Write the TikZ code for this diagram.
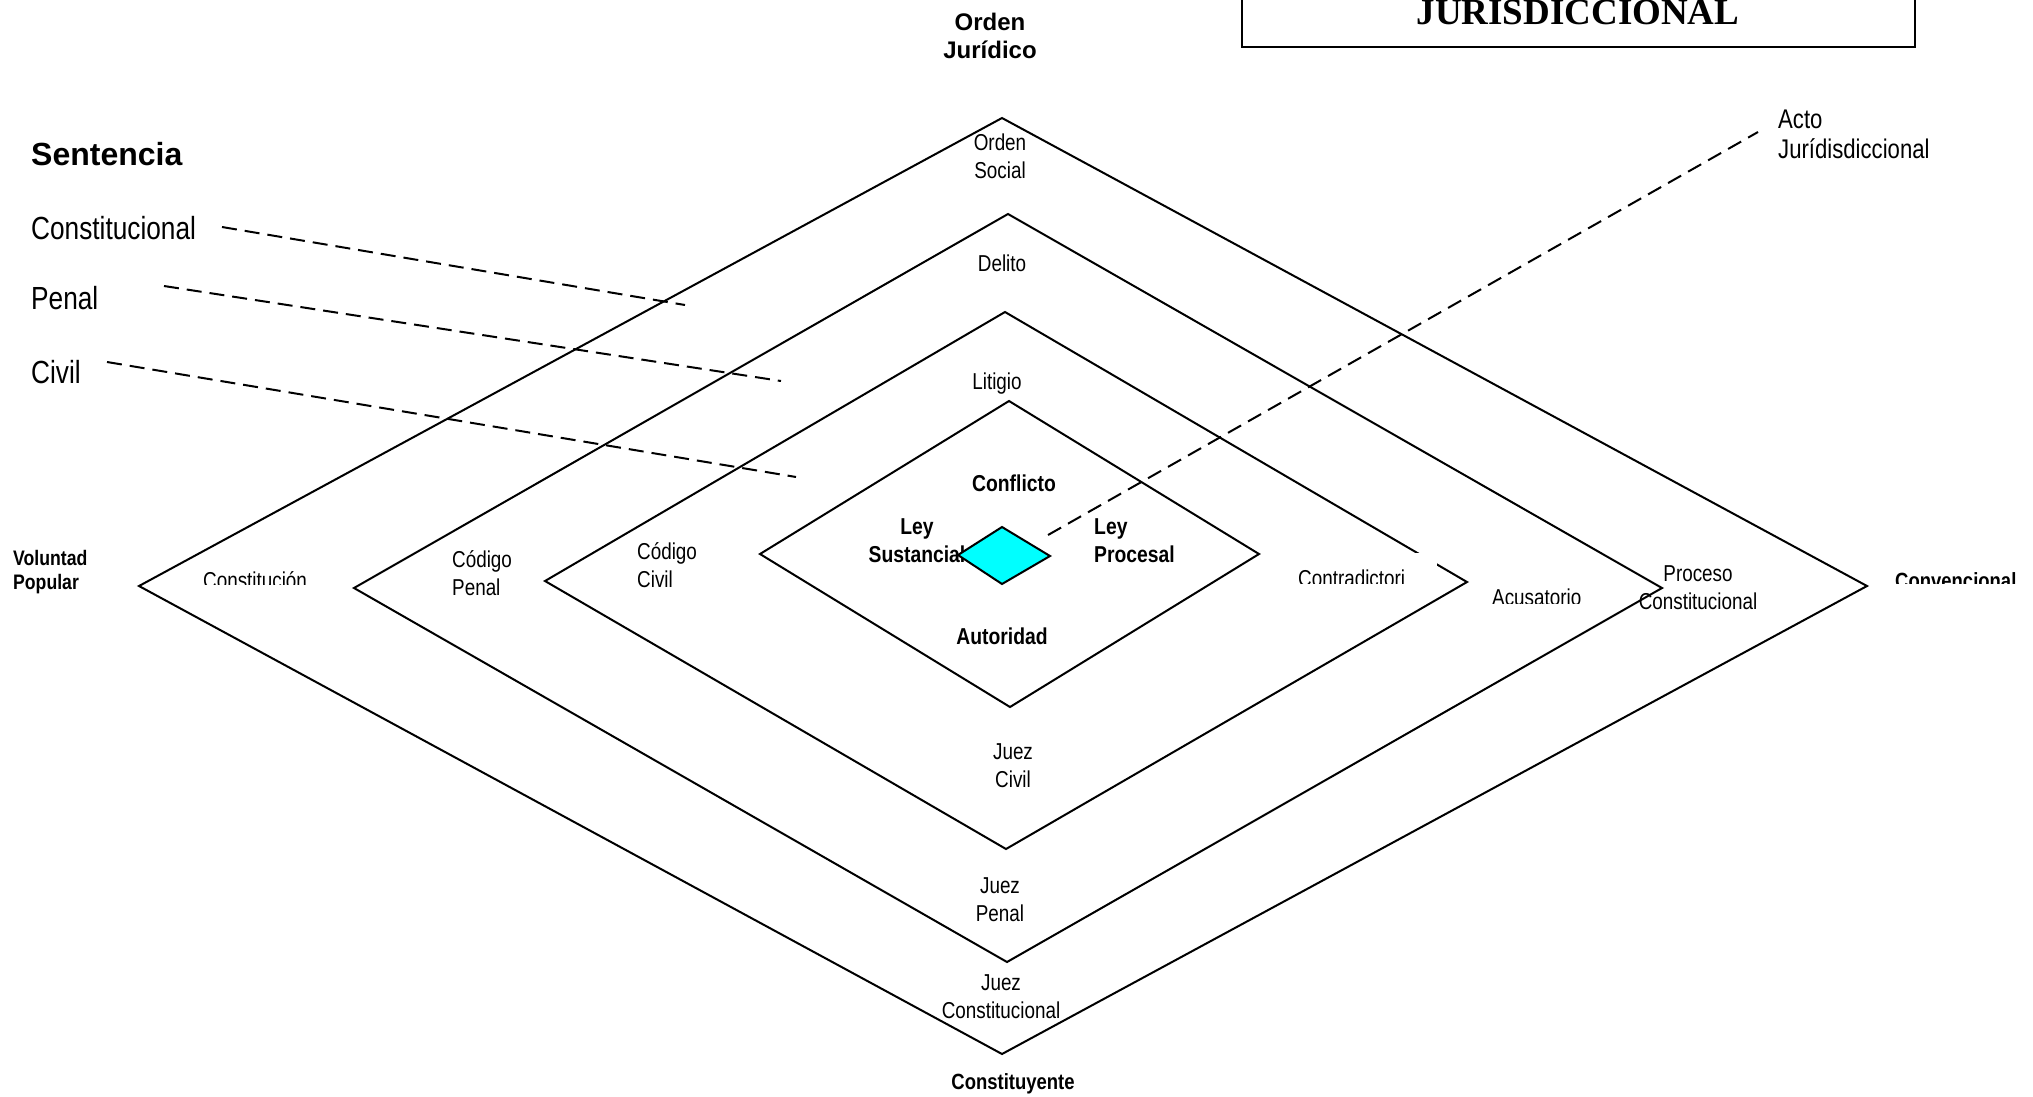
\documentclass[tikz,border=0pt]{standalone}
\usepackage{fontspec}
\setmainfont{Liberation Sans}
\newfontfamily\narfont[FakeStretch=0.82]{Liberation Sans}
\newfontfamily\narbfont[FakeStretch=0.84]{Liberation Sans}
\newfontfamily\titlefont{Liberation Serif}
\definecolor{aqua}{RGB}{0,255,255}
\tikzset{
  diam/.style={line width=2pt, line join=miter, miter limit=10},
  dashln/.style={line width=2pt, dash pattern=on 15pt off 8pt},
  rl/.style={font=\narfont\fontsize{23}{28}\selectfont, inner sep=0pt, align=center},
  rll/.style={font=\narfont\fontsize{23}{28}\selectfont, inner sep=0pt, align=left},
  bl/.style={font=\narbfont\bfseries\fontsize{23}{28}\selectfont, inner sep=0pt, align=center},
  bll/.style={font=\narbfont\bfseries\fontsize{23}{28}\selectfont, inner sep=0pt, align=left},
  biglbl/.style={font=\narfont\fontsize{32}{38}\selectfont, inner sep=0pt, anchor=base west},
}
\begin{document}
\begin{tikzpicture}[x=1pt,y=-1pt]
\useasboundingbox (0,0) rectangle (2033,1096);
\clip (0,0) rectangle (2033,1096);
\fill[white] (0,0) rectangle (2033,1096);

% title box
\coordinate (tbl) at (1242,-10);
\coordinate (tbr) at (1915,-10);
\draw[line width=2pt] (tbl) -- (1242,47) -- (1915,47) -- (tbr);
\node[font=\titlefont\bfseries\fontsize{37}{40}\selectfont, inner sep=0pt, anchor=base] (titulo) at (1578,24) {JURISDICCIONAL};

% diamonds
\coordinate (d1t) at (1002,118);  \coordinate (d1l) at (139,586);
\coordinate (d1r) at (1867,586);  \coordinate (d1b) at (1002,1054);
\coordinate (d2t) at (1008,214);  \coordinate (d2l) at (354,588);
\coordinate (d2r) at (1662,588);  \coordinate (d2b) at (1007,962);
\coordinate (d3t) at (1005,312);  \coordinate (d3l) at (545,581);
\coordinate (d3r) at (1467,582);  \coordinate (d3b) at (1006,849);
\coordinate (d4t) at (1009,401);  \coordinate (d4l) at (760,554);
\coordinate (d4r) at (1259,554);  \coordinate (d4b) at (1010,707);
\draw[diam] (d1t) -- (d1r) -- (d1b) -- (d1l) -- cycle;
\draw[diam] (d2t) -- (d2r) -- (d2b) -- (d2l) -- cycle;
\draw[diam] (d3t) -- (d3r) -- (d3b) -- (d3l) -- cycle;
\draw[diam] (d4t) -- (d4r) -- (d4b) -- (d4l) -- cycle;

% top / outer labels
\node[font=\bfseries\fontsize{24}{28}\selectfont, inner sep=0pt, align=center] (ordenjur) at (990,36) {Orden\\Jurídico};
\node[font=\bfseries\fontsize{32}{38}\selectfont, inner sep=0pt, anchor=base west] (sentencia) at (31,165) {Sentencia};
\node[biglbl] (sconst) at (31,239) {Constitucional};
\node[biglbl] (spenal) at (31,309) {Penal};
\node[biglbl] (scivil) at (31,383) {Civil};
\node[font=\narfont\fontsize{27}{30}\selectfont, inner sep=0pt, align=left, anchor=west] (acto) at (1778,134) {Acto\\Jurídisdiccional};
\node[font=\narbfont\bfseries\fontsize{21}{24}\selectfont, inner sep=0pt, align=left, anchor=base west] (voluntad) at (13,589) {Voluntad\\Popular};
\node[font=\narbfont\bfseries\fontsize{22}{26}\selectfont, inner sep=0pt, anchor=base] (constituyente) at (1013,1089) {Constituyente};
\begin{scope}
  \clip (1880,555) rectangle (2033,583);
  \node[font=\narbfont\bfseries\fontsize{22}{26}\selectfont, inner sep=0pt, anchor=base west] (convencional) at (1895,588) {Convencional};
\end{scope}

% inner labels
\node[rl] (ordensocial) at (1000,156) {Orden\\Social};
\node[rl] (delito) at (1002,263) {Delito};
\node[rl] (litigio) at (997,384) {Litigio};
\node[bl] (conflicto) at (1014,483) {Conflicto};
\node[bl] (leysust) at (917,541) {Ley\\Sustancial};
\node[bll, anchor=west] (leyproc) at (1094,541) {Ley\\Procesal};
\node[bl] (autoridad) at (1002,636) {Autoridad};
\node[rll, anchor=west] (codcivil) at (637,565) {Código\\Civil};
\node[rll, anchor=west] (codpenal) at (452,573) {Código\\Penal};
\node[rl] (proceso) at (1698,588) {Proceso\\Constitucional};
\node[rl] (juezcivil) at (1013,766) {Juez\\Civil};
\node[rl] (juezpenal) at (1000,900) {Juez\\Penal};
\node[rl] (juezconst) at (1001,997) {Juez\\Constitucional};

\begin{scope}
  \clip (150,545) rectangle (345,584);
  \node[rl, anchor=base west] (constitucion) at (203,588.5) {Constitución};
\end{scope}
\fill[white] (1290,553) rectangle (1437,583);
\begin{scope}
  \clip (1290,553) rectangle (1437,583);
  \node[rl, anchor=base west] (contradictori) at (1298,586.5) {Contradictori};
\end{scope}
\begin{scope}
  \clip (1480,575) rectangle (1600,603);
  \node[rl, anchor=base west] (acusatorio) at (1492,605.5) {Acusatorio};
\end{scope}

% dashed leaders
\coordinate (ec) at (685,305);
\coordinate (ep) at (781,381);
\coordinate (ev) at (796,477);
\coordinate (sc) at (222,227);
\coordinate (sp) at (164,286);
\coordinate (sv) at (107,362);
\draw[dashln] (sc) -- (ec);
\draw[dashln] (sp) -- (ep);
\draw[dashln] (sv) -- (ev);
\coordinate (aend) at (1758,132);
\coordinate (astart) at (1048,535);
\draw[dashln] (astart) -- (aend);

% central cyan diamond
\coordinate (ct) at (1002,527); \coordinate (cl) at (958,555);
\coordinate (cr) at (1050,556); \coordinate (cb) at (1002,584);
\draw[diam, fill=aqua] (ct) -- (cr) -- (cb) -- (cl) -- cycle;
\end{tikzpicture}
\end{document}
